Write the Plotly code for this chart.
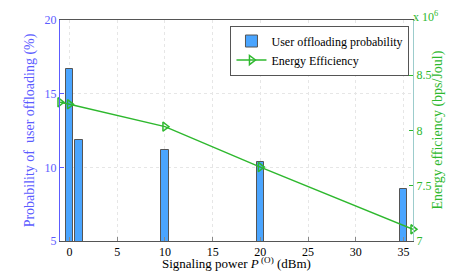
import plotly.graph_objects as go

bar_x = [0, 1, 10, 20, 35]
bar_prob = [16.65, 11.83, 11.17, 10.36, 8.53]

ee_x = [-1, 0, 10, 20, 36]
ee_vals = [8.255, 8.237, 8.035, 7.669, 7.106]

left_ticks = [5, 10, 15, 20]
right_ticks = [7, 7.5, 8, 8.5]
x_ticks = [0, 5, 10, 15, 20, 25, 30, 35]

BLUE = "#5c5cff"
GREEN = "#2eb82e"
FONT = "Times New Roman, Liberation Serif, serif"

fig = go.Figure()
fig.add_trace(go.Bar(
    x=bar_x, y=bar_prob, width=0.8, name="User offloading probability",
    marker=dict(color="#4aa5ff", line=dict(color="#555555", width=1)),
    base=0, yaxis="y",
))
fig.add_trace(go.Scatter(
    x=ee_x, y=ee_vals, name="Energy Efficiency", yaxis="y2",
    mode="lines+markers",
    line=dict(color=GREEN, width=1.5),
    marker=dict(symbol="triangle-right-open", size=8, color=GREEN, line=dict(width=1.5)),
    cliponaxis=False,
))

fig.update_layout(
    width=457, height=271,
    margin=dict(l=60, r=44, t=20, b=30),
    paper_bgcolor="white", plot_bgcolor="white",
    font=dict(family=FONT, size=12, color="black"),
    showlegend=True,
    legend=dict(x=0.99, y=0.975, xanchor="right", yanchor="top",
                bgcolor="white", bordercolor="#555555", borderwidth=1,
                font=dict(family=FONT, size=12, color="black"), tracegroupgap=0,
                itemwidth=30),
    bargap=0,
    xaxis=dict(range=[-1, 36], tickvals=x_ticks, ticks="inside", ticklen=4,
               tickcolor="#888", showgrid=True, gridcolor="#e6e6e6", griddash="dot",
               gridwidth=1,
               showline=True, linecolor="#555555", mirror=True, zeroline=False,
               tickfont=dict(family=FONT, size=12, color="black")),
    yaxis=dict(range=[5, 20], tickvals=left_ticks, ticks="inside", ticklen=4,
               tickcolor=BLUE, showgrid=True, gridcolor="#e6e6e6", griddash="dot",
               showline=True, linecolor=BLUE, zeroline=False,
               tickfont=dict(family=FONT, color=BLUE, size=12),
               title=dict(text="Probability of  user offloading (%)",
                          font=dict(family=FONT, color=BLUE, size=14), standoff=6)),
    yaxis2=dict(range=[7, 9], tickvals=right_ticks, ticktext=["7", "7.5", "8", "8.5"],
                overlaying="y", side="right", ticks="inside", ticklen=4,
                tickcolor=GREEN, showgrid=False, showline=True, linecolor="#9ccccc",
                zeroline=False, tickfont=dict(family=FONT, color=GREEN, size=12)),
    annotations=[
        dict(text="x 10<sup>6</sup>", x=1.0, y=1.0, xref="paper", yref="paper",
             xanchor="left", yanchor="bottom", showarrow=False,
             font=dict(color=GREEN, size=12, family=FONT), xshift=-2, yshift=-6),
        dict(text="Signaling power <i>P</i><sup> (O)</sup> (dBm)", x=0.5, y=0,
             xref="paper", yref="paper", xanchor="center", yanchor="top",
             showarrow=False, yshift=-12,
             font=dict(color="black", size=13, family=FONT)),
        dict(text="Energy efficiency (bps/Joul)", x=1.0, y=0.5,
             xref="paper", yref="paper", xanchor="center", yanchor="middle",
             textangle=-90, showarrow=False, xshift=24,
             font=dict(color=GREEN, size=14, family=FONT)),
    ],
)

fig.write_html("out.html", config={"displayModeBar": False},
               post_script="document.body.style.margin='0';document.body.style.overflow='hidden';")
